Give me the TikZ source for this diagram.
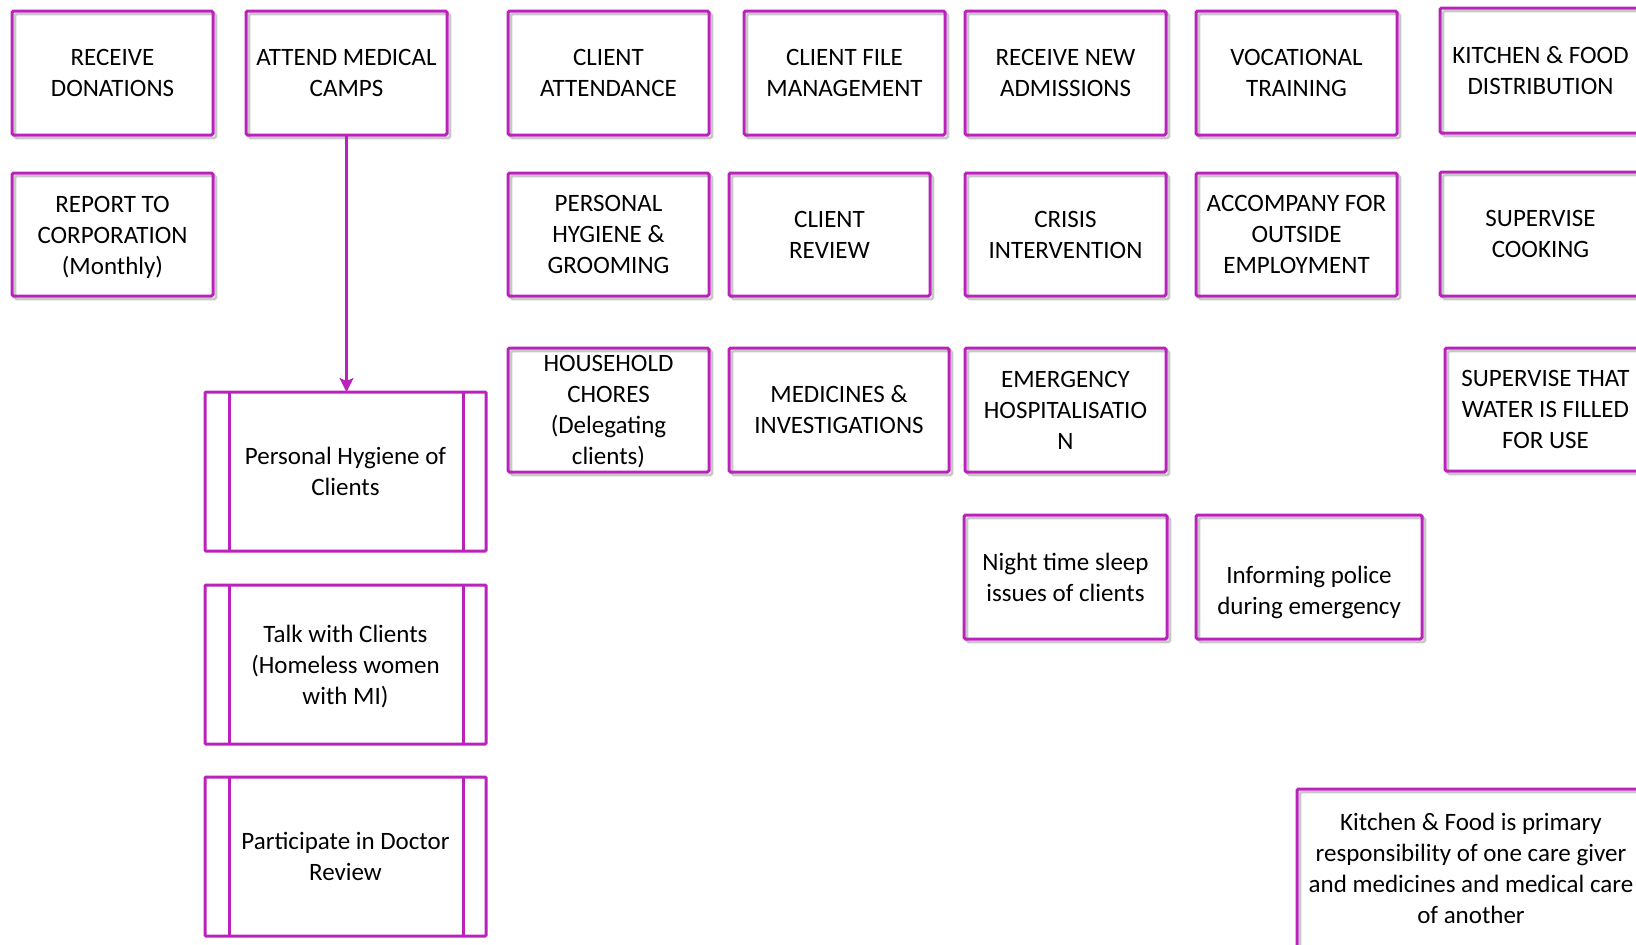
\documentclass[tikz,border=0pt]{standalone}
\usepackage{fontspec}
\setmainfont{Carlito}
\usetikzlibrary{arrows.meta}
\definecolor{mag}{RGB}{187,33,187}
\definecolor{shad}{RGB}{200,200,200}
\tikzset{
  txt/.style={align=center, inner sep=0pt, outer sep=0pt, text=black,
    font=\fontsize{25}{31}\selectfont},
  box/.style={txt, draw=mag, line width=3pt, rounded corners=1.5pt,
    preaction={draw=shad, line width=2.5pt, transform canvas={shift={(3pt,-3pt)}}}},
  pbox/.style={txt, draw=mag, line width=3pt, rounded corners=1pt},
  conn/.style={draw=mag, line width=2.5pt, -{Stealth[length=14pt,width=14pt,inset=3pt]}},
  side/.style={draw=mag, line width=3pt}
}
\newcommand{\bx}[7][box]{%
  \node[#1, minimum width={(#5-#3)*1pt}, minimum height={(#6-#4)*1pt}]
    (#2) at ({(#3+#5)/2},{(#4+#6)/2}) {#7};}
\begin{document}
\begin{tikzpicture}[x=1pt,y=-1pt]
\useasboundingbox (0,0) rectangle (1636,945);
% column 1
\bx{don}{12}{11}{213}{135}{RECEIVE\\DONATIONS}
\bx{attend}{246}{11}{447}{135}{ATTEND MEDICAL\\CAMPS}
\bx[box,label={[txt,yshift=-3pt]center:{REPORT TO\\CORPORATION\\(Monthly)}}]{report}{12}{173}{213}{296}{}
% top row
\bx{attn}{508}{11}{709}{135}{CLIENT\\ATTENDANCE}
\bx{file}{744}{11}{945}{135}{CLIENT FILE\\MANAGEMENT}
\bx{adm}{965}{11}{1166}{135}{RECEIVE NEW\\ADMISSIONS}
\bx{voc}{1196}{11}{1397}{135}{VOCATIONAL\\TRAINING}
\bx{kitchen}{1440}{8}{1641}{133}{KITCHEN \& FOOD\\DISTRIBUTION}
% second row
\bx{groom}{508}{173}{709}{296}{PERSONAL\\HYGIENE \&\\GROOMING}
\bx{review}{729}{173}{930}{296}{CLIENT\\REVIEW}
\bx{crisis}{965}{173}{1166}{296}{CRISIS\\INTERVENTION}
\bx{accomp}{1196}{173}{1397}{296}{ACCOMPANY FOR\\OUTSIDE\\EMPLOYMENT}
\bx{cook}{1440}{172}{1641}{296}{SUPERVISE\\COOKING}
% third row
\bx[box,label={[txt,yshift=-2pt]center:{HOUSEHOLD\\CHORES\\(Delegating\\clients)}}]{chores}{508}{348}{709}{472}{}
\bx{meds}{729}{348}{949}{472}{MEDICINES \&\\INVESTIGATIONS}
\bx{emerg}{965}{348}{1166}{472}{EMERGENCY\\HOSPITALISATIO\\N}
\bx{water}{1445}{348}{1646}{471}{SUPERVISE THAT\\WATER IS FILLED\\FOR USE}
% fourth row
\bx{night}{964}{515}{1167}{639}{Night time sleep\\issues of clients}
\bx[box,label={[txt,yshift=-15.5pt]center:{Informing police\\during emergency}}]{police}{1196}{515}{1422}{639}{}
% note
\bx{note}{1297}{789}{1645}{948}{Kitchen \& Food is primary\\responsibility of one care giver\\and medicines and medical care\\of another}
% process boxes
\bx[pbox]{ph}{205}{392}{486}{551}{Personal Hygiene of\\Clients}
\bx[pbox,label={[txt,yshift=-2pt]center:{Talk with Clients\\(Homeless women\\with MI)}}]{talk}{205}{585}{486}{744}{}
\bx[pbox]{doc}{205}{777}{486}{936}{Participate in Doctor\\Review}
\foreach \n in {ph,talk,doc}{
  \draw[side] ([xshift=24pt]\n.north west) -- ([xshift=24pt]\n.south west);
  \draw[side] ([xshift=-23pt]\n.north east) -- ([xshift=-23pt]\n.south east);
}
% connector
\draw[conn] (attend.south) -- (attend.south |- ph.north);
\end{tikzpicture}
\end{document}
